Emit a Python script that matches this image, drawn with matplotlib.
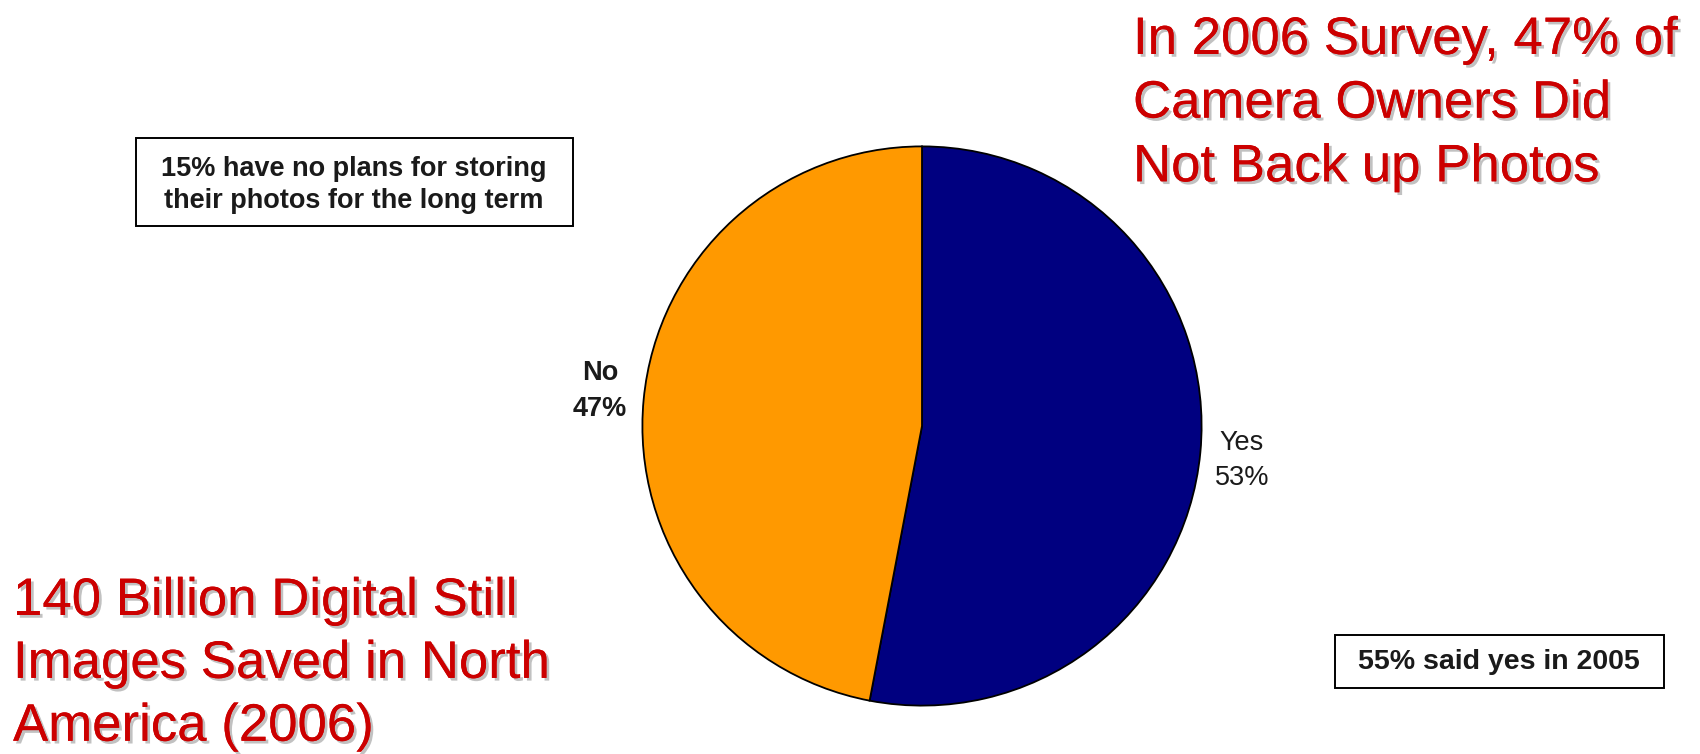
import matplotlib
matplotlib.use("Agg")
import matplotlib.pyplot as plt
import matplotlib.patheffects as pe
from matplotlib.patches import Rectangle

plt.rcParams['font.family'] = ['Liberation Sans', 'DejaVu Sans']

# data
labels = ["Yes", "No"]
shares = [53, 47]
colors = ["#000080", "#FF9900"]

title_right = "In 2006 Survey, 47% of\nCamera Owners Did\nNot Back up Photos"
title_left = "140 Billion Digital Still\nImages Saved in North\nAmerica (2006)"
note_top = "15% have no plans for storing\ntheir photos for the long term"
note_bottom = "55% said yes in 2005"

W, H = 1700, 754
fig = plt.figure(figsize=(W / 100, H / 100), dpi=100)

def fx(x):
    return x / W

def fy(y):
    return 1 - y / H

# pie axes: center (922, 426) px, radius 281 px
cx, cy, r = 922, 426, 281
ax = fig.add_axes([fx(cx - r), fy(cy + r), 2 * r / W, 2 * r / H])
ax.pie(shares, colors=colors, startangle=90, counterclock=False,
       wedgeprops=dict(edgecolor="black", linewidth=1.3), radius=1)
ax.set_xlim(-1.005, 1.005)
ax.set_ylim(-1.005, 1.005)
ax.set_aspect("equal")
ax.axis("off")

# slice labels
fig.text(fx(600), fy(391), "%s\n%d%%" % (labels[1], shares[1]), ha="center", va="center",
         fontsize=19.5, fontweight="bold", color="#1a1a1a", linespacing=1.5)
fig.text(fx(1242), fy(460), "%s\n%d%%" % (labels[0], shares[0]), ha="center", va="center",
         fontsize=19.5, color="#1a1a1a", linespacing=1.45)

# red headline texts with shadow
shadow = [pe.withSimplePatchShadow(offset=(2, -2), shadow_rgbFace="#999999", alpha=0.6), pe.Normal()]
fig.text(fx(1133), fy(15), title_right, ha="left", va="top", fontsize=38,
         color="#CC0000", linespacing=1.35, path_effects=shadow)
fig.text(fx(13), fy(576), title_left, ha="left", va="top", fontsize=38,
         color="#CC0000", linespacing=1.33, path_effects=shadow)

# note boxes
fig.patches.append(Rectangle((fx(136), fy(226)), fx(573 - 136), (226 - 138) / H,
                             transform=fig.transFigure, fill=False, edgecolor="black", linewidth=1.4))
fig.text(fx(354), fy(185), note_top, ha="center", va="center", fontsize=19.5,
         fontweight="bold", color="#1a1a1a", linespacing=1.3)

fig.patches.append(Rectangle((fx(1335), fy(688)), fx(1664 - 1335), (688 - 635) / H,
                             transform=fig.transFigure, fill=False, edgecolor="black", linewidth=1.4))
fig.text(fx(1499), fy(662), note_bottom, ha="center", va="center", fontsize=20.5,
         fontweight="bold", color="#1a1a1a")

fig.savefig("out.png", dpi=100, facecolor="white")
